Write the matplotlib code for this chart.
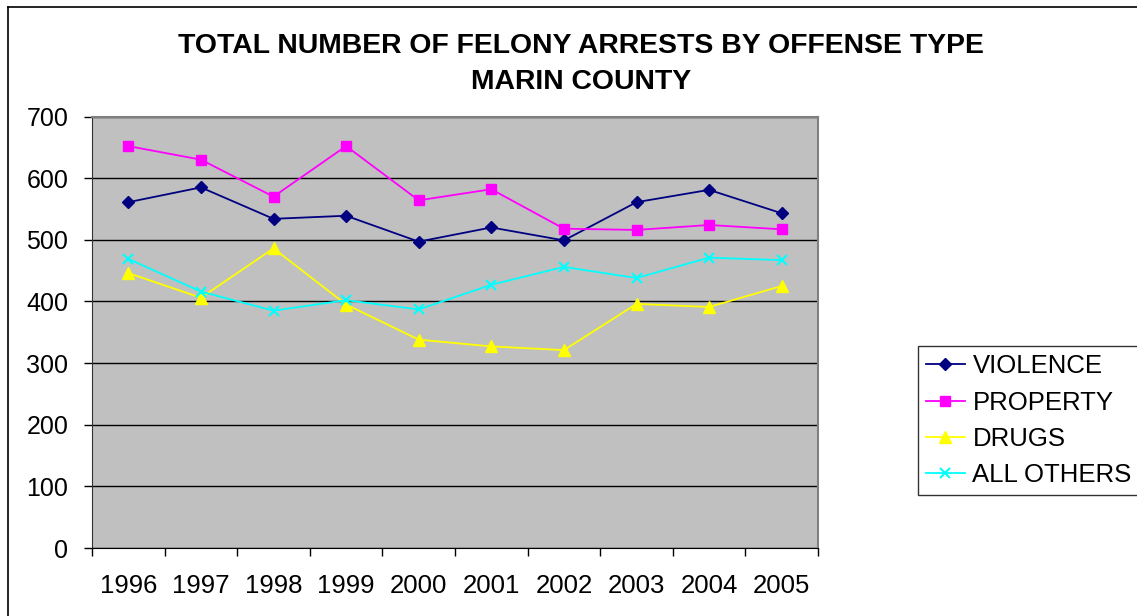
import matplotlib
matplotlib.use("Agg")
import matplotlib.pyplot as plt
from matplotlib.lines import Line2D
import numpy as np

years = ["1996", "1997", "1998", "1999", "2000", "2001", "2002", "2003", "2004", "2005"]
violence = [561, 585, 534, 539, 497, 520, 499, 561, 581, 543]
property_ = [652, 630, 570, 652, 564, 582, 518, 516, 524, 517]
drugs = [446, 406, 486, 395, 338, 327, 321, 396, 391, 425]
all_others = [469, 416, 385, 402, 387, 427, 456, 438, 471, 467]

plt.rcParams["font.family"] = ["Liberation Sans", "DejaVu Sans"]

W, H = 1137, 616
fig = plt.figure(figsize=(W / 100, H / 100), dpi=100)

# chart-area frame (only left and top edges fall inside the image)
fig.add_artist(Line2D([8 / W, 8 / W], [0, 1 - 7 / H], color="black", lw=1.2))
fig.add_artist(Line2D([8 / W, 1], [1 - 7 / H, 1 - 7 / H], color="black", lw=1.2))

ax = fig.add_axes((92 / W, 1 - 548 / H, (818 - 92) / W, (548 - 116.5) / H))
ax.set_facecolor("#C0C0C0")

x = np.arange(len(years)) + 0.5
series = [
    ("VIOLENCE", violence, "#000080", "D", 6),
    ("PROPERTY", property_, "#FF00FF", "s", 6.5),
    ("DRUGS", drugs, "#FFFF00", "^", 8),
    ("ALL OTHERS", all_others, "#00FFFF", "x", 7.5),
]
for name, vals, col, mk, ms in series:
    ax.plot(x, vals, color=col, marker=mk, ms=ms, lw=1.3, mew=1.5 if mk == "x" else 1,
            label=name, zorder=3)

ax.set_xlim(0, len(years))
ax.set_ylim(0, 700)
ax.set_yticks(range(0, 701, 100))
ax.yaxis.grid(True, color="black", lw=1)
ax.set_axisbelow(True)

ax.set_xticks(range(len(years) + 1))
ax.set_xticklabels([])
ax.set_xticks(x, minor=True)
ax.set_xticklabels(years, minor=True)
ax.tick_params(axis="x", which="major", direction="out", length=6, width=1)
ax.tick_params(axis="x", which="minor", length=0, pad=19, labelsize=18.5)
ax.tick_params(axis="y", direction="out", length=6, width=1, pad=11, labelsize=18)

for s in ("top", "right"):
    ax.spines[s].set_color("#808080")
    ax.spines[s].set_linewidth(1.5)
ax.spines["left"].set_color("#333333")
ax.spines["bottom"].set_color("black")

fig.text(581 / W, 1 - 46 / H, "TOTAL NUMBER OF FELONY ARRESTS BY OFFENSE TYPE",
         ha="center", va="center", fontsize=20.4, fontweight="bold")
fig.text(581 / W, 1 - 82 / H, "MARIN COUNTY",
         ha="center", va="center", fontsize=20.4, fontweight="bold")

leg = ax.legend(loc="upper left", bbox_to_anchor=(918 / W, 1 - 346 / H),
                bbox_transform=fig.transFigure, fontsize=18.5, frameon=True,
                fancybox=False, edgecolor="black", borderpad=0.32,
                labelspacing=0.48, handlelength=1.5, handletextpad=0.3,
                borderaxespad=0)
leg.get_frame().set_linewidth(1)

fig.savefig("out.png", dpi=100)
